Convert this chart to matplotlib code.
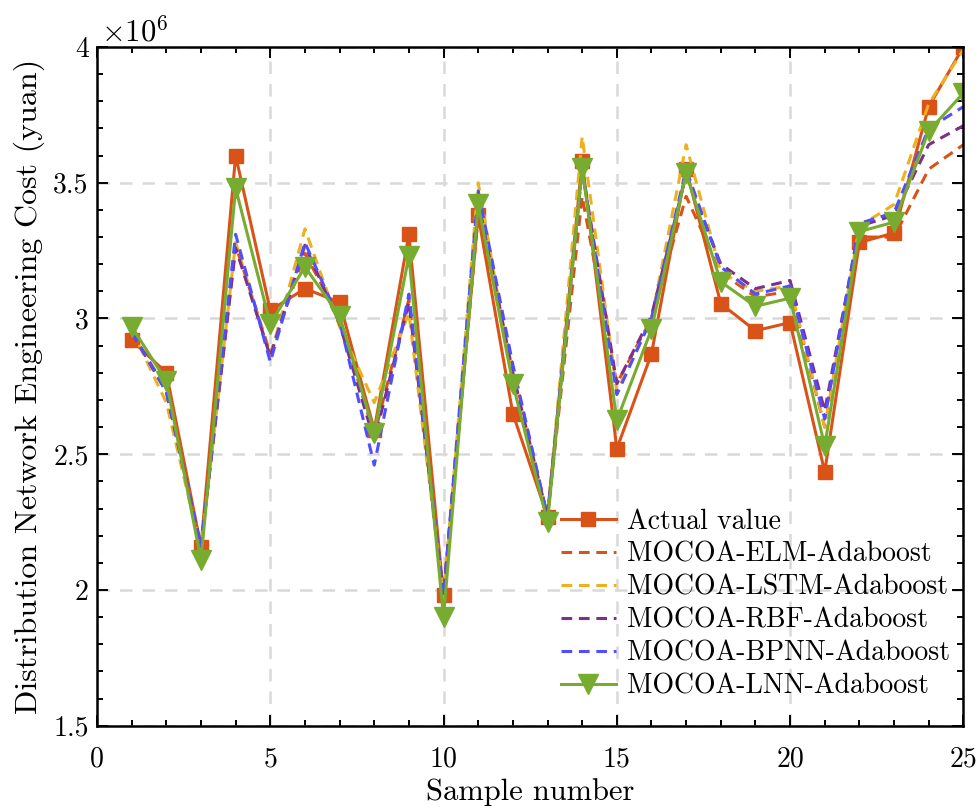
import numpy as np
import matplotlib
matplotlib.use("Agg")
import matplotlib.pyplot as plt
from matplotlib.ticker import MultipleLocator, FormatStrFormatter

plt.rcParams['font.family'] = ['cmr10']
plt.rcParams['mathtext.fontset'] = 'cm'
plt.rcParams['axes.formatter.use_mathtext'] = True

# cost per sample, in units of 10^6 yuan
samples = np.arange(1, 26)
actual = [2.92, 2.80, 2.16, 3.60, 3.03, 3.11, 3.06, 2.59, 3.31, 1.98,
          3.38, 2.65, 2.27, 3.58, 2.52, 2.87, 3.55, 3.055, 2.955, 2.985,
          2.435, 3.28, 3.315, 3.78, 4.00]
elm = [2.95, 2.74, 2.16, 3.27, 2.87, 3.24, 3.00, 2.57, 3.07, 1.98,
       3.38, 2.82, 2.27, 3.45, 2.76, 3.00, 3.45, 3.17, 3.08, 3.10,
       2.60, 3.30, 3.30, 3.55, 3.64]
lstm = [2.96, 2.69, 2.15, 3.28, 2.86, 3.33, 2.97, 2.69, 3.02, 1.97,
        3.50, 2.77, 2.27, 3.67, 2.73, 3.00, 3.64, 3.17, 3.10, 3.12,
        2.60, 3.34, 3.42, 3.79, 3.99]
rbf = [2.95, 2.73, 2.16, 3.26, 2.86, 3.27, 2.98, 2.55, 3.06, 1.98,
       3.43, 2.80, 2.27, 3.55, 2.76, 3.01, 3.53, 3.20, 3.11, 3.14,
       2.66, 3.34, 3.38, 3.64, 3.71]
bpnn = [2.95, 2.73, 2.16, 3.31, 2.84, 3.28, 2.99, 2.46, 3.09, 1.98,
        3.47, 2.83, 2.27, 3.55, 2.72, 3.00, 3.55, 3.19, 3.09, 3.12,
        2.63, 3.35, 3.39, 3.70, 3.78]
lnn = [2.97, 2.77, 2.11, 3.48, 2.98, 3.19, 3.01, 2.58, 3.23, 1.90,
       3.42, 2.76, 2.25, 3.555, 2.625, 2.96, 3.535, 3.135, 3.045, 3.075,
       2.53, 3.32, 3.355, 3.69, 3.83]

labels = ['Actual value', 'MOCOA-ELM-Adaboost', 'MOCOA-LSTM-Adaboost',
          'MOCOA-RBF-Adaboost', 'MOCOA-BPNN-Adaboost', 'MOCOA-LNN-Adaboost']

fig = plt.figure(figsize=(9.8, 8.1), dpi=100)
ax = fig.add_axes([0.099, 0.104, 0.884, 0.838])

lw = 2.2
dash = (0, (3.5, 2.2))
ax.plot(samples, actual, '-s', color='#D95319', lw=lw, ms=10, label=labels[0])
ax.plot(samples, elm, color='#D95319', ls=dash, lw=lw, label=labels[1])
ax.plot(samples, lstm, color='#EDB120', ls=dash, lw=lw, label=labels[2])
ax.plot(samples, rbf, color='#7E2F8E', ls=dash, lw=lw, label=labels[3])
ax.plot(samples, bpnn, color='#4F4FFF', ls=dash, lw=lw, label=labels[4])
ax.plot(samples, lnn, '-v', color='#77AC30', lw=lw, ms=14, label=labels[5])

ax.set_xlim(0, 25)
ax.set_ylim(1.5, 4)
ax.xaxis.set_major_locator(MultipleLocator(5))
ax.xaxis.set_minor_locator(MultipleLocator(1))
ax.yaxis.set_major_locator(MultipleLocator(0.5))
ax.yaxis.set_minor_locator(MultipleLocator(0.1))
ax.yaxis.set_major_formatter(FormatStrFormatter('%g'))
ax.xaxis.set_major_formatter(FormatStrFormatter('%g'))

ax.tick_params(which='both', direction='in', top=True, right=True,
               width=1.4, labelsize=20)
ax.tick_params(which='major', length=8)
ax.tick_params(which='minor', length=4)
ax.tick_params(axis='x', which='major', pad=15)
ax.tick_params(axis='y', which='major', pad=6)
for s in ax.spines.values():
    s.set_linewidth(1.8)

ax.grid(True, which='major', ls=(0, (5, 4)), color='#d9d9d9', lw=1.8)
ax.set_axisbelow(True)

ax.set_xlabel('Sample number', fontsize=22, labelpad=4)
ax.set_ylabel('Distribution Network Engineering Cost (yuan)', fontsize=23, labelpad=6)
ax.text(0.005, 1.0, r'$\times10^6$', transform=ax.transAxes, fontsize=22,
        ha='left', va='bottom')

ax.legend(loc='lower left', bbox_to_anchor=(0.535, 0.038), frameon=False,
          fontsize=20, borderpad=0, borderaxespad=0, handlelength=2.0,
          handletextpad=0.4, labelspacing=0.24)

fig.savefig('out.png', dpi=100)
